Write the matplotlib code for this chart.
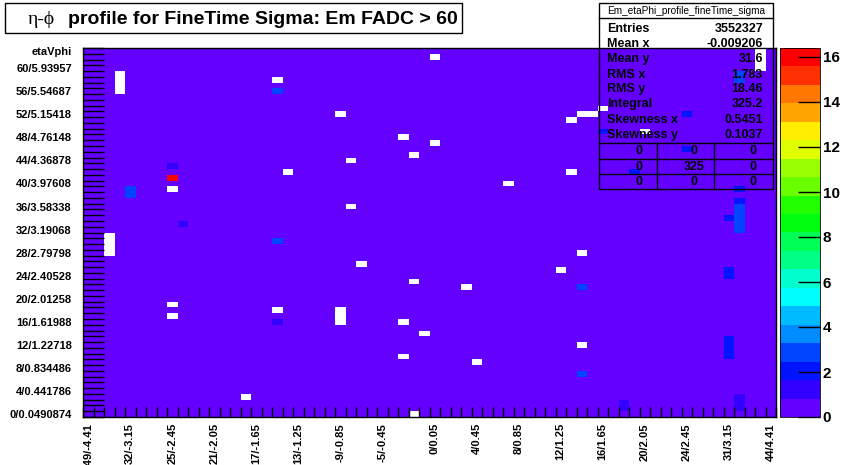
import colorsys
import numpy as np
import matplotlib
matplotlib.use("Agg")
import matplotlib.pyplot as plt
from matplotlib.colors import ListedColormap, BoundaryNorm
from matplotlib.patches import Rectangle
from matplotlib.lines import Line2D

plt.rcParams['font.family'] = ['Liberation Sans', 'DejaVu Sans']
plt.rcParams['font.weight'] = 'bold'

W, H = 848, 465
n_eta, n_phi = 66, 64

eta_label_bins = [0, 4, 8, 12, 16, 20, 24, 28, 33, 37, 41, 45, 49, 53, 57, 61, 65]
eta_labels = ["-49/-4.41", "32/-3.15", "25/-2.45", "21/-2.05", "17/-1.65",
              "13/-1.25", "-9/-0.85", "-5/-0.45", "0/0.05", "4/0.45", "8/0.85",
              "12/1.25", "16/1.65", "20/2.05", "24/2.45", "31/3.15", "44/4.41"]
phi_label_bins = [0, 4, 8, 12, 16, 20, 24, 28, 32, 36, 40, 44, 48, 52, 56, 60, 63]
phi_labels = ["0/0.0490874", "4/0.441786", "8/0.834486", "12/1.22718",
              "16/1.61988", "20/2.01258", "24/2.40528", "28/2.79798",
              "32/3.19068", "36/3.58338", "40/3.97608", "44/4.36878",
              "48/4.76148", "52/5.15418", "56/5.54687", "60/5.93957", "etaVphi"]

# typical sigma in a quiet cell
base_sigma = 0.06

# cells with zero content (left unpainted)
empty_eta = [33, 3, 3, 3, 3, 18, 24, 49, 47, 48, 46, 53, 30, 33, 31, 25, 19, 46,
             40, 8, 25, 64, 64, 64, 64, 2, 2, 2, 2, 26, 8, 8, 18, 24, 24, 24, 30,
             32, 30, 37, 15, 31, 31, 36, 45, 47, 47]
empty_phi = [62, 56, 57, 58, 59, 58, 52, 53, 52, 52, 51, 49, 48, 47, 45, 44, 42, 42,
             40, 39, 36, 60, 61, 62, 63, 28, 29, 30, 31, 26, 19, 17, 18, 16, 17, 18, 16,
             14, 10, 9, 3, 0, 23, 22, 25, 28, 12]

# cells standing out above the quiet level
hot_eta = [18, 4, 4, 8, 8, 9, 62, 62, 57, 49, 57, 52, 62, 62, 62, 62, 62, 62, 62,
           61, 18, 18, 47, 47, 61, 61, 61, 61, 61, 61, 62, 62, 62, 51, 51]
hot_phi = [56, 38, 39, 43, 41, 33, 58, 59, 52, 49, 46, 42, 39, 37, 36, 35, 34, 33, 32,
           34, 30, 16, 22, 7, 24, 25, 10, 11, 12, 13, 1, 2, 3, 1, 2]
hot_sigma = [2.9, 2.9, 2.9, 1.2, 16.4, 1.3, 2.9, 2.9, 2.0, 2.0, 2.0, 2.0, 2.0, 2.0,
             2.5, 2.9, 2.9, 2.9, 2.9, 2.0, 2.9, 1.2, 2.5, 2.5, 2.0, 2.0, 2.0, 2.0,
             2.0, 2.0, 1.2, 1.2, 1.2, 1.0, 1.0]

stat_names = ["Entries", "Mean x", "Mean y", "RMS x", "RMS y", "Integral",
              "Skewness x", "Skewness y"]
stat_values = ["3552327", "-0.009206", "31.6", "1.783", "18.46", "325.2",
               "0.5451", "0.1037"]
overflow_table = [["0", "0", "0"], ["0", "325", "0"], ["0", "0", "0"]]

z = np.full((n_phi, n_eta), base_sigma)
z[empty_phi, empty_eta] = 0.0
z[hot_phi, hot_eta] = hot_sigma
z = np.ma.masked_equal(z, 0.0)


# ROOT "pretty" violet->red palette sampled on 20 contours
def root_palette(ncont=20):
    cols = []
    for k in range(ncont):
        idx = int((k + 0.99) * 50 / ncont)
        hue = max(0.0, 280 - (idx + 1) * 5.6)
        cols.append(colorsys.hls_to_rgb(hue / 360.0, 0.5, 1.0))
    return cols


zmax = float(z.max())
levels = np.linspace(0, zmax, 21)
cmap = ListedColormap(root_palette(20))
cmap.set_bad((1, 1, 1, 0))
norm = BoundaryNorm(levels, cmap.N)


def fx(x):
    return x / W


def fy(y):
    return 1 - y / H


fig = plt.figure(figsize=(W / 100, H / 100), dpi=100)
ax = fig.add_axes([fx(83), fy(417), (776 - 83) / W, (417 - 48) / H])
mesh = ax.pcolormesh(np.arange(n_eta + 1), np.arange(n_phi + 1), z,
                     cmap=cmap, norm=norm)
ax.set_xlim(0, n_eta)
ax.set_ylim(0, n_phi)
for s in ax.spines.values():
    s.set_linewidth(1.0)

ax.set_xticks(np.arange(n_eta + 1), minor=True)
ax.set_yticks(np.arange(n_phi + 1), minor=True)
ax.set_xticks(np.array(eta_label_bins) + 0.5)
ax.set_xticklabels(eta_labels, rotation=90, fontsize=8, fontweight='bold')
ax.set_yticks(np.array(phi_label_bins) + 0.5)
ax.set_yticklabels(phi_labels, fontsize=8, fontweight='bold')
ax.tick_params(axis='x', which='minor', direction='in', length=7.2, width=1)
ax.tick_params(axis='y', which='minor', direction='in', length=15, width=1)
ax.tick_params(axis='both', which='major', length=0)
ax.tick_params(axis='x', which='major', pad=4.5)
ax.tick_params(axis='y', which='major', pad=8)

cax = fig.add_axes([fx(780), fy(417), 40 / W, (417 - 48) / H])
cb = fig.colorbar(mesh, cax=cax, ticks=np.arange(0, 17, 2))
cb.ax.set_yticklabels([str(t) for t in range(0, 17, 2)])
cb.ax.tick_params(direction='in', length=16, width=1, labelsize=11, pad=2)
cb.ax.minorticks_off()
cb.outline.set_linewidth(0.6)

# title pave
fig.patches.append(Rectangle((fx(5), fy(33)), (462 - 5) / W, 30 / H,
                             transform=fig.transFigure, facecolor='white',
                             edgecolor='black', linewidth=1.0))
t1 = fig.text(fx(28), fy(24.5), "η-ϕ", fontsize=14, fontweight='normal',
              family=['Liberation Serif', 'DejaVu Serif'], va='baseline')
fig.text(fx(68), fy(24.5), "profile for FineTime Sigma: Em FADC > 60",
         fontsize=14, fontweight='bold', va='baseline')

# statistics box
fig.patches.append(Rectangle((fx(599), fy(189)), (773 - 599) / W, (189 - 3) / H,
                             transform=fig.transFigure, facecolor='none',
                             edgecolor='black', linewidth=1.0))
fig.lines.append(Line2D([fx(599), fx(773)], [fy(18), fy(18)],
                        transform=fig.transFigure, color='black', lw=1.0))
fig.text(fx(686), fy(10.5), "Em_etaPhi_profile_fineTime_sigma", fontsize=7.2,
         fontweight='normal', ha='center', va='center')
stat_base = [31.7, 47.1, 61.6, 77.5, 92.3, 107.3, 123.3, 138.3]
for name, val, yb in zip(stat_names, stat_values, stat_base):
    fig.text(fx(607), fy(yb), name, fontsize=9, va='baseline', ha='left')
    fig.text(fx(763), fy(yb), val, fontsize=9, va='baseline', ha='right')
for yl in [143, 159, 174]:
    fig.lines.append(Line2D([fx(599), fx(773)], [fy(yl), fy(yl)],
                            transform=fig.transFigure, color='black', lw=1.0))
for xl in [657, 714]:
    fig.lines.append(Line2D([fx(xl), fx(xl)], [fy(143), fy(189)],
                            transform=fig.transFigure, color='black', lw=1.0))
for row, yc in zip(overflow_table, [151, 166.5, 182]):
    for val, xc in zip(row, [639.5, 694, 753]):
        fig.text(fx(xc), fy(yc), val, fontsize=9, ha='center', va='center')

fig.savefig("out.png", dpi=100)
